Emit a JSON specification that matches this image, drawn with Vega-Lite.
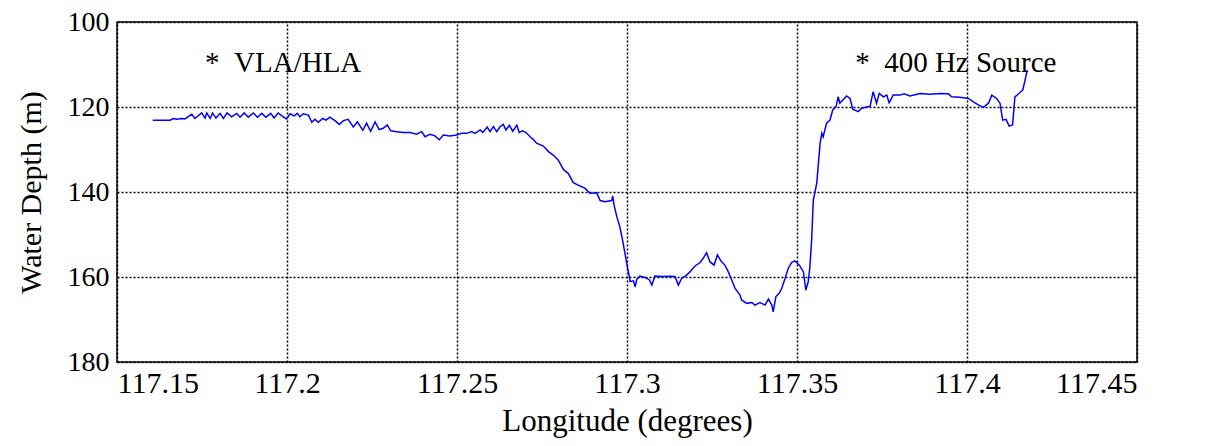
{
  "$schema": "https://vega.github.io/schema/vega-lite/v6.json",
  "width": 1020,
  "height": 340,
  "autosize": {"type": "none"},
  "padding": {"left": 117, "top": 22, "right": 70, "bottom": 84},
  "background": "white",
  "config": {
    "font": "'Liberation Serif', 'Times New Roman', serif",
    "view": {"stroke": "black", "strokeWidth": 1.5},
    "style": {"guide-label": {"font": "'Liberation Serif', 'Times New Roman', serif"}},
    "axis": {
      "grid": true,
      "gridColor": "black",
      "gridDash": [2, 2],
      "gridWidth": 1.5,
      "gridOpacity": 1,
      "domain": false,
      "ticks": false,
      "labelColor": "black",
      "titleColor": "black",
      "titleFontWeight": "normal"
    }
  },
  "layer": [
    {
      "data": {
        "values": [
          {"lon": 117.1605, "depth": 123.1},
          {"lon": 117.1656, "depth": 123.1},
          {"lon": 117.1666, "depth": 122.7},
          {"lon": 117.1676, "depth": 122.9},
          {"lon": 117.1690, "depth": 122.7},
          {"lon": 117.1700, "depth": 122.8},
          {"lon": 117.1720, "depth": 121.7},
          {"lon": 117.1729, "depth": 122.7},
          {"lon": 117.1749, "depth": 121.4},
          {"lon": 117.1759, "depth": 122.6},
          {"lon": 117.1764, "depth": 121.4},
          {"lon": 117.1774, "depth": 122.7},
          {"lon": 117.1781, "depth": 121.4},
          {"lon": 117.1791, "depth": 122.6},
          {"lon": 117.1803, "depth": 121.5},
          {"lon": 117.1813, "depth": 122.7},
          {"lon": 117.1824, "depth": 121.4},
          {"lon": 117.1837, "depth": 122.3},
          {"lon": 117.1852, "depth": 121.5},
          {"lon": 117.1862, "depth": 122.4},
          {"lon": 117.1874, "depth": 121.4},
          {"lon": 117.1886, "depth": 122.4},
          {"lon": 117.1901, "depth": 121.4},
          {"lon": 117.1913, "depth": 122.4},
          {"lon": 117.1926, "depth": 121.5},
          {"lon": 117.1938, "depth": 122.4},
          {"lon": 117.1952, "depth": 121.5},
          {"lon": 117.1962, "depth": 122.6},
          {"lon": 117.1974, "depth": 121.4},
          {"lon": 117.1989, "depth": 122.3},
          {"lon": 117.1999, "depth": 122.8},
          {"lon": 117.2009, "depth": 121.6},
          {"lon": 117.2021, "depth": 122.1},
          {"lon": 117.2030, "depth": 121.5},
          {"lon": 117.2038, "depth": 122.3},
          {"lon": 117.2048, "depth": 121.6},
          {"lon": 117.2063, "depth": 121.9},
          {"lon": 117.2073, "depth": 123.6},
          {"lon": 117.2082, "depth": 122.9},
          {"lon": 117.2092, "depth": 123.6},
          {"lon": 117.2105, "depth": 122.7},
          {"lon": 117.2115, "depth": 123.1},
          {"lon": 117.2126, "depth": 122.4},
          {"lon": 117.2141, "depth": 123.2},
          {"lon": 117.2154, "depth": 124.1},
          {"lon": 117.2166, "depth": 123.2},
          {"lon": 117.2180, "depth": 122.9},
          {"lon": 117.2195, "depth": 124.7},
          {"lon": 117.2207, "depth": 123.5},
          {"lon": 117.2223, "depth": 125.5},
          {"lon": 117.2234, "depth": 123.8},
          {"lon": 117.2246, "depth": 125.7},
          {"lon": 117.2259, "depth": 123.5},
          {"lon": 117.2271, "depth": 125.3},
          {"lon": 117.2283, "depth": 125.0},
          {"lon": 117.2295, "depth": 124.2},
          {"lon": 117.2305, "depth": 125.6},
          {"lon": 117.2323, "depth": 125.8},
          {"lon": 117.2342, "depth": 126.0},
          {"lon": 117.2362, "depth": 126.0},
          {"lon": 117.2381, "depth": 126.4},
          {"lon": 117.2396, "depth": 125.8},
          {"lon": 117.2406, "depth": 127.0},
          {"lon": 117.2421, "depth": 126.4},
          {"lon": 117.2435, "depth": 126.8},
          {"lon": 117.2448, "depth": 127.7},
          {"lon": 117.2460, "depth": 126.6},
          {"lon": 117.2479, "depth": 126.8},
          {"lon": 117.2499, "depth": 126.6},
          {"lon": 117.2514, "depth": 126.2},
          {"lon": 117.2529, "depth": 126.2},
          {"lon": 117.2543, "depth": 125.8},
          {"lon": 117.2553, "depth": 126.2},
          {"lon": 117.2568, "depth": 125.4},
          {"lon": 117.2576, "depth": 126.0},
          {"lon": 117.2589, "depth": 124.7},
          {"lon": 117.2597, "depth": 125.8},
          {"lon": 117.2607, "depth": 124.6},
          {"lon": 117.2617, "depth": 125.8},
          {"lon": 117.2626, "depth": 124.7},
          {"lon": 117.2636, "depth": 124.1},
          {"lon": 117.2644, "depth": 125.4},
          {"lon": 117.2654, "depth": 124.3},
          {"lon": 117.2664, "depth": 125.7},
          {"lon": 117.2676, "depth": 124.3},
          {"lon": 117.2683, "depth": 126.0},
          {"lon": 117.2693, "depth": 125.6},
          {"lon": 117.2703, "depth": 126.0},
          {"lon": 117.2715, "depth": 127.0},
          {"lon": 117.2724, "depth": 127.6},
          {"lon": 117.2734, "depth": 128.5},
          {"lon": 117.2754, "depth": 129.2},
          {"lon": 117.2769, "depth": 130.5},
          {"lon": 117.2783, "depth": 131.3},
          {"lon": 117.2798, "depth": 132.5},
          {"lon": 117.2813, "depth": 134.7},
          {"lon": 117.2827, "depth": 135.6},
          {"lon": 117.2842, "depth": 137.8},
          {"lon": 117.2862, "depth": 138.6},
          {"lon": 117.2876, "depth": 139.1},
          {"lon": 117.2891, "depth": 140.3},
          {"lon": 117.2911, "depth": 140.2},
          {"lon": 117.2921, "depth": 142.0},
          {"lon": 117.2935, "depth": 142.3},
          {"lon": 117.2955, "depth": 142.0},
          {"lon": 117.2958, "depth": 140.9},
          {"lon": 117.2962, "depth": 143.1},
          {"lon": 117.2970, "depth": 145.8},
          {"lon": 117.2979, "depth": 148.2},
          {"lon": 117.2987, "depth": 151.3},
          {"lon": 117.2994, "depth": 154.4},
          {"lon": 117.3001, "depth": 157.6},
          {"lon": 117.3007, "depth": 159.9},
          {"lon": 117.3009, "depth": 161.1},
          {"lon": 117.3019, "depth": 160.9},
          {"lon": 117.3024, "depth": 162.3},
          {"lon": 117.3029, "depth": 160.5},
          {"lon": 117.3038, "depth": 159.8},
          {"lon": 117.3053, "depth": 160.1},
          {"lon": 117.3066, "depth": 160.7},
          {"lon": 117.3073, "depth": 161.9},
          {"lon": 117.3082, "depth": 159.8},
          {"lon": 117.3102, "depth": 159.9},
          {"lon": 117.3121, "depth": 159.8},
          {"lon": 117.3141, "depth": 159.9},
          {"lon": 117.3151, "depth": 161.9},
          {"lon": 117.3161, "depth": 160.3},
          {"lon": 117.3176, "depth": 159.5},
          {"lon": 117.3185, "depth": 158.8},
          {"lon": 117.3200, "depth": 157.4},
          {"lon": 117.3215, "depth": 156.6},
          {"lon": 117.3224, "depth": 155.6},
          {"lon": 117.3234, "depth": 154.3},
          {"lon": 117.3244, "depth": 156.4},
          {"lon": 117.3256, "depth": 157.2},
          {"lon": 117.3266, "depth": 154.8},
          {"lon": 117.3276, "depth": 156.2},
          {"lon": 117.3288, "depth": 157.2},
          {"lon": 117.3298, "depth": 158.8},
          {"lon": 117.3308, "depth": 160.7},
          {"lon": 117.3318, "depth": 162.7},
          {"lon": 117.3332, "depth": 164.2},
          {"lon": 117.3337, "depth": 165.4},
          {"lon": 117.3352, "depth": 166.2},
          {"lon": 117.3367, "depth": 166.0},
          {"lon": 117.3376, "depth": 166.6},
          {"lon": 117.3391, "depth": 166.0},
          {"lon": 117.3406, "depth": 166.6},
          {"lon": 117.3416, "depth": 165.2},
          {"lon": 117.3426, "depth": 166.6},
          {"lon": 117.3430, "depth": 168.2},
          {"lon": 117.3438, "depth": 164.6},
          {"lon": 117.3448, "depth": 163.8},
          {"lon": 117.3455, "depth": 162.7},
          {"lon": 117.3465, "depth": 160.3},
          {"lon": 117.3474, "depth": 158.0},
          {"lon": 117.3484, "depth": 156.6},
          {"lon": 117.3494, "depth": 156.2},
          {"lon": 117.3507, "depth": 157.2},
          {"lon": 117.3519, "depth": 158.8},
          {"lon": 117.3526, "depth": 163.1},
          {"lon": 117.3533, "depth": 161.1},
          {"lon": 117.3538, "depth": 157.6},
          {"lon": 117.3543, "depth": 151.3},
          {"lon": 117.3548, "depth": 141.9},
          {"lon": 117.3558, "depth": 138.0},
          {"lon": 117.3563, "depth": 133.2},
          {"lon": 117.3568, "depth": 128.5},
          {"lon": 117.3573, "depth": 126.2},
          {"lon": 117.3577, "depth": 127.0},
          {"lon": 117.3587, "depth": 123.8},
          {"lon": 117.3597, "depth": 123.1},
          {"lon": 117.3605, "depth": 120.7},
          {"lon": 117.3615, "depth": 119.9},
          {"lon": 117.3621, "depth": 117.6},
          {"lon": 117.3626, "depth": 119.1},
          {"lon": 117.3646, "depth": 117.4},
          {"lon": 117.3656, "depth": 118.0},
          {"lon": 117.3664, "depth": 120.5},
          {"lon": 117.3680, "depth": 121.1},
          {"lon": 117.3690, "depth": 120.3},
          {"lon": 117.3715, "depth": 119.8},
          {"lon": 117.3724, "depth": 116.4},
          {"lon": 117.3734, "depth": 119.1},
          {"lon": 117.3742, "depth": 116.8},
          {"lon": 117.3754, "depth": 117.6},
          {"lon": 117.3764, "depth": 117.2},
          {"lon": 117.3771, "depth": 119.0},
          {"lon": 117.3783, "depth": 117.2},
          {"lon": 117.3803, "depth": 117.2},
          {"lon": 117.3815, "depth": 116.9},
          {"lon": 117.3832, "depth": 117.4},
          {"lon": 117.3862, "depth": 116.8},
          {"lon": 117.3891, "depth": 117.0},
          {"lon": 117.3921, "depth": 116.8},
          {"lon": 117.3945, "depth": 116.9},
          {"lon": 117.3955, "depth": 117.6},
          {"lon": 117.3979, "depth": 117.7},
          {"lon": 117.4004, "depth": 118.0},
          {"lon": 117.4019, "depth": 118.8},
          {"lon": 117.4033, "depth": 119.5},
          {"lon": 117.4048, "depth": 120.1},
          {"lon": 117.4063, "depth": 119.1},
          {"lon": 117.4073, "depth": 117.2},
          {"lon": 117.4087, "depth": 118.0},
          {"lon": 117.4097, "depth": 119.1},
          {"lon": 117.4105, "depth": 123.1},
          {"lon": 117.4115, "depth": 122.9},
          {"lon": 117.4124, "depth": 124.5},
          {"lon": 117.4134, "depth": 124.2},
          {"lon": 117.4141, "depth": 117.6},
          {"lon": 117.4156, "depth": 116.6},
          {"lon": 117.4164, "depth": 116.0},
          {"lon": 117.4171, "depth": 113.6},
          {"lon": 117.4177, "depth": 111.3}
        ]
      },
      "mark": {"type": "line", "color": "#0000ff", "strokeWidth": 1.5},
      "encoding": {
        "x": {
          "field": "lon",
          "type": "quantitative",
          "scale": {"domain": [117.15, 117.45], "nice": false, "zero": false},
          "axis": {
            "values": [117.15, 117.2, 117.25, 117.3, 117.35, 117.4, 117.45],
            "format": ".2~f",
            "title": "Longitude (degrees)",
            "labelFont": "'Liberation Serif', 'Times New Roman', serif",
            "titleFont": "Times New Roman, serif",
            "labelFontSize": 30,
            "titleFontSize": 31,
            "labelPadding": 6,
            "titlePadding": 8
          }
        },
        "y": {
          "field": "depth",
          "type": "quantitative",
          "scale": {"domain": [100, 180], "nice": false, "zero": false, "reverse": true},
          "axis": {
            "values": [100, 120, 140, 160, 180],
            "title": "Water Depth (m)",
            "labelFont": "'Liberation Serif', 'Times New Roman', serif",
            "titleFont": "Times New Roman, serif",
            "labelFontSize": 28,
            "titleFontSize": 30,
            "labelPadding": 8,
            "titlePadding": 21
          }
        }
      }
    },
    {
      "data": {
        "values": [
          {"lon": 117.1759, "depth": 109.6, "label": "*\u00a0\u00a0VLA/HLA"},
          {"lon": 117.3671, "depth": 109.6, "label": "*\u00a0\u00a0400 Hz Source"}
        ]
      },
      "mark": {"type": "text", "align": "left", "baseline": "middle", "font": "Times New Roman, serif", "fontSize": 29, "color": "black"},
      "encoding": {
        "x": {"field": "lon", "type": "quantitative"},
        "y": {"field": "depth", "type": "quantitative"},
        "text": {"field": "label", "type": "nominal"}
      }
    }
  ]
}
